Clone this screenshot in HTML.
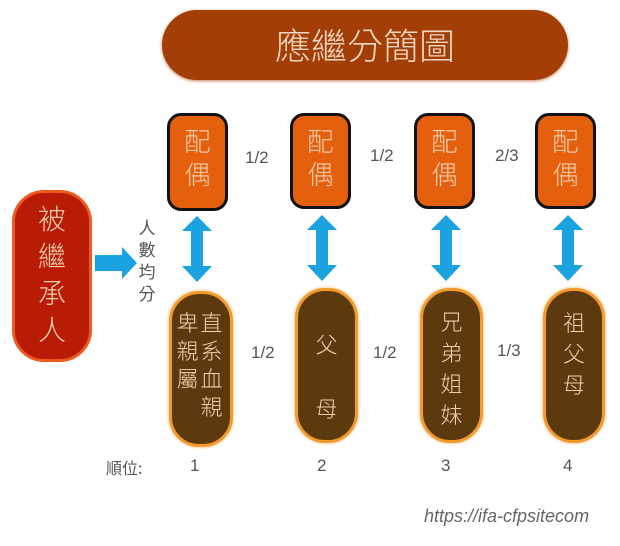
<!DOCTYPE html>
<html><head><meta charset="utf-8"><style>
body{margin:0;width:620px;height:546px;background:#fff;position:relative;overflow:hidden;font-family:"Liberation Sans","Noto Sans CJK TC",sans-serif;}
.a{position:absolute;box-sizing:border-box;}
.t{position:absolute;text-align:center;color:#f6cdb0;font-weight:300;line-height:1.25;}
.sp{background:#e5600c;border:3px solid #111;border-radius:14px;}
.bt{background:#5c3a0d;border:3px solid #f39a2c;border-radius:30px;box-shadow:0 0 3px #f7b060;}
.lb{position:absolute;color:#555;font-size:17px;}
.cj{font-family:"Noto Sans CJK TC","WenQuanYi Zen Hei",sans-serif;}
</style></head><body>
<div class="a" style="left:162px;top:10px;width:406px;height:70px;background:#a33e06;border-radius:35px;box-shadow:0 1px 3px #c87a50;"></div>
<div class="t cj" style="left:162px;top:22px;width:406px;font-size:36px;line-height:44px;color:#f6d8c2;">應繼分簡圖</div>

<div class="a" style="left:12px;top:190px;width:80px;height:172px;background:#b81c04;border:3px solid #ec5a1e;border-radius:32px;"></div>
<div class="t cj" style="left:12px;top:200px;width:80px;font-size:28px;line-height:37px;">被<br>繼<br>承<br>人</div>

<svg class="a" style="left:0;top:0" width="620" height="546">
<defs><polygon id="d" points="0,0 15,15 6,15 6,50 15,50 0,66 -15,50 -6,50 -6,15 -15,15"/></defs>
<g fill="#1aa3e0">
<polygon points="95,255 122,255 122,247 137,263 122,279 122,271 95,271"/>
<use href="#d" x="197" y="216"/>
<use href="#d" x="322" y="215"/>
<use href="#d" x="446" y="215"/>
<use href="#d" x="568" y="215"/>
</g>
</svg>
<div class="lb cj" style="left:137px;top:216px;width:20px;font-size:17px;line-height:22px;text-align:center;">人<br>數<br>均<br>分</div>

<div class="a sp" style="left:167px;top:113px;width:61px;height:98px;"></div>
<div class="a sp" style="left:290px;top:113px;width:61px;height:96px;"></div>
<div class="a sp" style="left:414px;top:113px;width:61px;height:96px;"></div>
<div class="a sp" style="left:535px;top:113px;width:61px;height:96px;"></div>
<div class="t cj" style="left:167px;top:124px;width:61px;font-size:26px;line-height:33px;">配<br>偶</div>
<div class="t cj" style="left:290px;top:124px;width:61px;font-size:26px;line-height:33px;">配<br>偶</div>
<div class="t cj" style="left:414px;top:124px;width:61px;font-size:26px;line-height:33px;">配<br>偶</div>
<div class="t cj" style="left:535px;top:124px;width:61px;font-size:26px;line-height:33px;">配<br>偶</div>

<div class="a bt" style="left:169px;top:291px;width:64px;height:156px;"></div>
<div class="a bt" style="left:295px;top:288px;width:63px;height:155px;"></div>
<div class="a bt" style="left:420px;top:288px;width:63px;height:155px;"></div>
<div class="a bt" style="left:543px;top:288px;width:62px;height:155px;"></div>
<div class="t cj" style="left:175px;top:308px;width:25px;font-size:22px;line-height:28px;">卑<br>親<br>屬</div>
<div class="t cj" style="left:199px;top:308px;width:25px;font-size:22px;line-height:28px;">直<br>系<br>血<br>親</div>
<div class="t cj" style="left:295px;top:312px;width:63px;font-size:22px;line-height:64px;">父<br>母</div>
<div class="t cj" style="left:420px;top:306px;width:63px;font-size:22px;line-height:31px;">兄<br>弟<br>姐<br>妹</div>
<div class="t cj" style="left:543px;top:307px;width:62px;font-size:22px;line-height:31px;">祖<br>父<br>母</div>

<div class="lb" style="left:245px;top:148px;">1/2</div>
<div class="lb" style="left:370px;top:146px;">1/2</div>
<div class="lb" style="left:495px;top:146px;">2/3</div>
<div class="lb" style="left:251px;top:343px;">1/2</div>
<div class="lb" style="left:373px;top:343px;">1/2</div>
<div class="lb" style="left:497px;top:341px;">1/3</div>

<div class="lb cj" style="left:106px;top:455px;font-size:16px;">順位:</div>
<div class="lb" style="left:190px;top:456px;">1</div>
<div class="lb" style="left:317px;top:456px;">2</div>
<div class="lb" style="left:441px;top:456px;">3</div>
<div class="lb" style="left:563px;top:456px;">4</div>

<div class="lb" style="left:424px;top:506px;font-size:18px;font-style:italic;color:#666;">https://ifa-cfpsitecom</div>
</body></html>
